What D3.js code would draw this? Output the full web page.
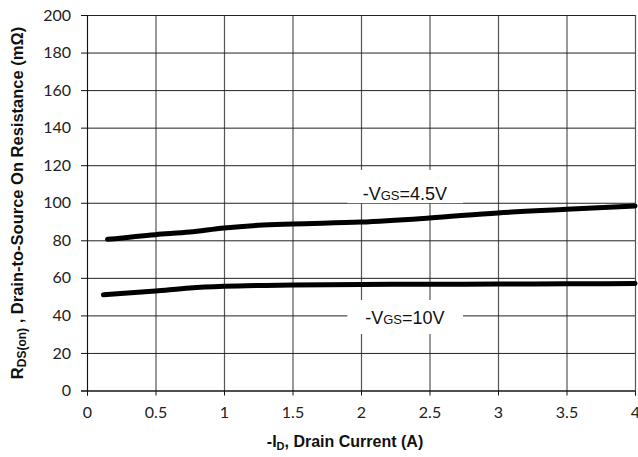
<!DOCTYPE html>
<html>
<head>
<meta charset="utf-8">
<script src="https://cdn.jsdelivr.net/npm/d3@7"></script>
<style>
  body { margin: 0; background: #fff; }
  svg { display: block; }
  .tick text { font-family: Lato, "Open Sans", sans-serif; font-size: 16px; fill: #222; }
  .title { font-family: "Liberation Sans", Arial, sans-serif; font-weight: bold; fill: #111; }
  .curve-label { font-family: "Liberation Sans", Arial, sans-serif; font-size: 18px; fill: #111; }
</style>
</head>
<body>
<div id="chart"></div>
<script>
// data
const current45 = [0.15, 0.5, 0.75, 1, 1.25, 1.5, 2, 2.5, 3, 3.5, 4];
const rds45 = [80.5, 83, 84.4, 86.6, 88, 88.7, 89.7, 91.9, 94.6, 96.5, 98.3];
const current10 = [0.12, 0.5, 0.75, 1, 1.5, 2, 2.5, 3, 3.5, 4];
const rds10 = [51, 53, 54.6, 55.5, 56.2, 56.5, 56.6, 56.7, 56.8, 57];
const xTicks = [0, 0.5, 1, 1.5, 2, 2.5, 3, 3.5, 4];
const yTicks = [0, 20, 40, 60, 80, 100, 120, 140, 160, 180, 200];

const width = 638;
const height = 457;
const margin = { top: 15, right: 3, bottom: 66.5, left: 87 };

const svg = d3.select("#chart")
  .append("svg")
    .attr("width", width)
    .attr("height", height);

const x = d3.scaleLinear()
  .domain([0, 4])
  .range([margin.left, width - margin.right]);

const y = d3.scaleLinear()
  .domain([0, 200])
  .range([height - margin.bottom, margin.top]);

const plotW = width - margin.left - margin.right;
const plotH = height - margin.top - margin.bottom;

// vertical grid (grey)
svg.append("g")
  .attr("transform", `translate(0,${margin.top})`)
  .call(d3.axisTop(x).tickValues(xTicks).tickSize(-plotH).tickFormat(""))
  .call(g => g.select(".domain").remove())
  .call(g => g.selectAll("line").attr("stroke", "#555").attr("stroke-width", 1.2));

// horizontal grid (dark)
svg.append("g")
  .attr("transform", `translate(${width - margin.right},0)`)
  .call(d3.axisRight(y).tickValues(yTicks).tickSize(-plotW).tickFormat(""))
  .call(g => g.select(".domain").remove())
  .call(g => g.selectAll("line").attr("stroke", "#222").attr("stroke-width", 1));

// white boxes behind the curve labels
const labels = [
  { text: "4.5V", cx: 2.32, y0: 99.8, y1: 117.5, base: 101.5 },
  { text: "10V", cx: 2.32, y0: 30.1, y1: 48.2, base: 35.6 }
];
svg.selectAll(".label-box")
  .data(labels)
  .join("rect")
    .attr("class", "label-box")
    .attr("x", x(1.9))
    .attr("width", x(2.745) - x(1.9))
    .attr("y", d => y(d.y1))
    .attr("height", d => y(d.y0) - y(d.y1))
    .attr("fill", "#fff");

// x axis
svg.append("g")
  .attr("transform", `translate(0,${y(0)})`)
  .call(d3.axisBottom(x).tickValues(xTicks).tickSize(5).tickPadding(11).tickFormat(d3.format("")))
  .call(g => g.select(".domain").attr("stroke", "#111"))
  .call(g => g.selectAll(".tick line").attr("stroke", "#111"));

// y axis
svg.append("g")
  .attr("transform", `translate(${x(0)},0)`)
  .call(d3.axisLeft(y).tickValues(yTicks).tickSize(6).tickPadding(10))
  .call(g => g.select(".domain").attr("stroke", "#111"))
  .call(g => g.selectAll(".tick line").attr("stroke", "#111"));

// curves
const line = d3.line()
  .x(d => x(d[0]))
  .y(d => y(d[1]))
  .curve(d3.curveMonotoneX);

const series = [
  d3.zip(current45, rds45),
  d3.zip(current10, rds10)
];
svg.selectAll(".curve")
  .data(series)
  .join("path")
    .attr("class", "curve")
    .attr("d", line)
    .attr("fill", "none")
    .attr("stroke", "#000")
    .attr("stroke-width", 5)
    .attr("stroke-linecap", "round");

// curve labels
const lbl = svg.selectAll(".curve-label")
  .data(labels)
  .join("text")
    .attr("class", "curve-label")
    .attr("x", d => x(d.cx))
    .attr("y", d => y(d.base))
    .attr("text-anchor", "middle");
lbl.append("tspan").text("-V");
lbl.append("tspan").attr("font-size", 13).text("GS");
lbl.append("tspan").text(d => "=" + d.text);

// axis titles
const xt = svg.append("text")
  .attr("class", "title")
  .attr("x", 345)
  .attr("y", 447)
  .attr("text-anchor", "middle")
  .attr("font-size", 16);
xt.append("tspan").text("-I");
xt.append("tspan").attr("font-size", 11).attr("dy", 3).text("D");
xt.append("tspan").attr("dy", -3).text(", Drain Current (A)");

const yt = svg.append("text")
  .attr("class", "title")
  .attr("transform", "translate(23,203) rotate(-90)")
  .attr("text-anchor", "middle")
  .attr("font-size", 16.5);
yt.append("tspan").text("R");
yt.append("tspan").attr("font-size", 12).attr("dy", 3).text("DS(on)");
yt.append("tspan").attr("dy", -3).text(" , Drain-to-Source On Resistance (mΩ)");
</script>
</body>
</html>
